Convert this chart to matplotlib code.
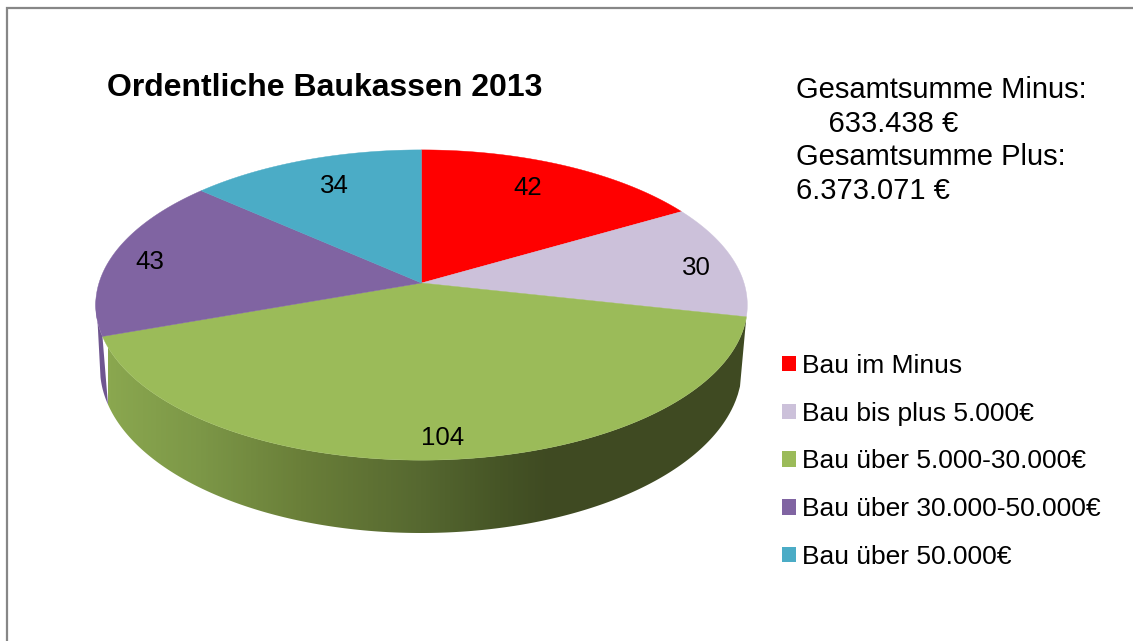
import numpy as np
import matplotlib
matplotlib.use("Agg")
import matplotlib.pyplot as plt
from matplotlib.patches import Polygon, Rectangle
from matplotlib.colors import LinearSegmentedColormap

plt.rcParams['font.family'] = ['Liberation Sans', 'DejaVu Sans']

categories = ["Bau im Minus", "Bau bis plus 5.000€", "Bau über 5.000-30.000€",
              "Bau über 30.000-50.000€", "Bau über 50.000€"]
values = [42, 30, 104, 43, 34]
colors = ["#FF0000", "#CCC1DA", "#9BBB59", "#8064A2", "#4BACC6"]
title = "Ordentliche Baukassen 2013"
note_lines = ["Gesamtsumme Minus:", "    633.438 €", "Gesamtsumme Plus:", "6.373.071 €"]

W, H = 1133, 641
fig = plt.figure(figsize=(W / 100, H / 100), dpi=100, facecolor="white")
ax = fig.add_axes([0, 0, 1, 1])
ax.set_xlim(0, W)
ax.set_ylim(H, 0)
ax.axis("off")

# perspective projection of the pie disc
CX, CY, A, B, K = 421.5, 283.0, 322.5, 152.0, 0.142


def rim(theta):
    u, v = np.sin(theta), np.cos(theta)
    d = 1 + K * v
    return CX + A * u / d, CY - B * v / d


def lower(x):
    return 368 + 165 * np.sqrt(np.clip(1 - ((x - 421) / 321) ** 2, 0, None))


edges = np.concatenate([[0], np.cumsum(values)]) / np.sum(values) * 2 * np.pi

# side wall: green with gradient
t = np.linspace(edges[2], edges[3], 300)
rx, ry = rim(t)
bx = np.linspace(108, 740, 300)
wall = np.column_stack([np.r_[rx, bx], np.r_[ry, lower(bx)]])
stops = [(108, "#8AA74F"), (200, "#7C9747"), (300, "#6A7F39"), (421, "#566830"),
         (500, "#465526"), (550, "#3F4A22"), (748, "#3F4A22")]
cmap = LinearSegmentedColormap.from_list(
    "wall", [((s - 108) / (748 - 108), c) for s, c in stops])
img = ax.imshow(np.linspace(0, 1, 640)[None, :], extent=(108, 748, 540, 300),
                cmap=cmap, aspect="auto", zorder=2)
wall_patch = Polygon(wall, closed=True, facecolor="none", edgecolor="none", transform=ax.transData)
ax.add_patch(wall_patch)
img.set_clip_path(wall_patch)
ax.set_xlim(0, W)
ax.set_ylim(H, 0)

# side wall: purple sliver at the left
t = np.linspace(edges[3], np.deg2rad(265), 60)
rx, ry = rim(t)
bx = np.linspace(100.5, 108, 30)
ax.add_patch(Polygon(np.column_stack([np.r_[rx, bx], np.r_[ry, lower(bx)]]),
                     closed=True, facecolor="#6F5690", edgecolor="none", zorder=1.5))

# top faces
for i, (v, c) in enumerate(zip(values, colors)):
    t = np.linspace(edges[i], edges[i + 1], 200)
    rx, ry = rim(t)
    ax.add_patch(Polygon(np.column_stack([np.r_[CX, rx], np.r_[CY, ry]]), closed=True,
                         facecolor=c, edgecolor=c, linewidth=0.3, zorder=3))

# value labels
label_xy = [(528, 188), (696, 268), (443, 438), (150, 262), (334, 186)]
for v, (x, y) in zip(values, label_xy):
    ax.text(x, y, str(v), ha="center", va="center", fontsize=18.6, color="black", zorder=4)

ax.text(107, 88, title, ha="left", va="center", fontsize=23, fontweight="bold", color="black")

for line, y in zip(note_lines, [90, 124, 157, 191]):
    ax.text(796, y, line, ha="left", va="center", fontsize=21, color="black")

# legend
handles = [Rectangle((0, 0), 1, 1, facecolor=c, edgecolor="none") for c in colors]
ax.legend(handles, categories, loc="upper left", bbox_to_anchor=(782 / W, 1 - 354 / H),
          frameon=False, fontsize=19, handlelength=0.53, handleheight=0.53,
          handletextpad=0.22, labelspacing=0.9, borderpad=0, borderaxespad=0)

# frame line along top and left edges
ax.plot([1133, 7, 7], [7.5, 7.5, 641], color="#878787", linewidth=1.6, zorder=5,
        solid_joinstyle="miter", clip_on=False)

fig.savefig("out.png", dpi=100, facecolor="white")
